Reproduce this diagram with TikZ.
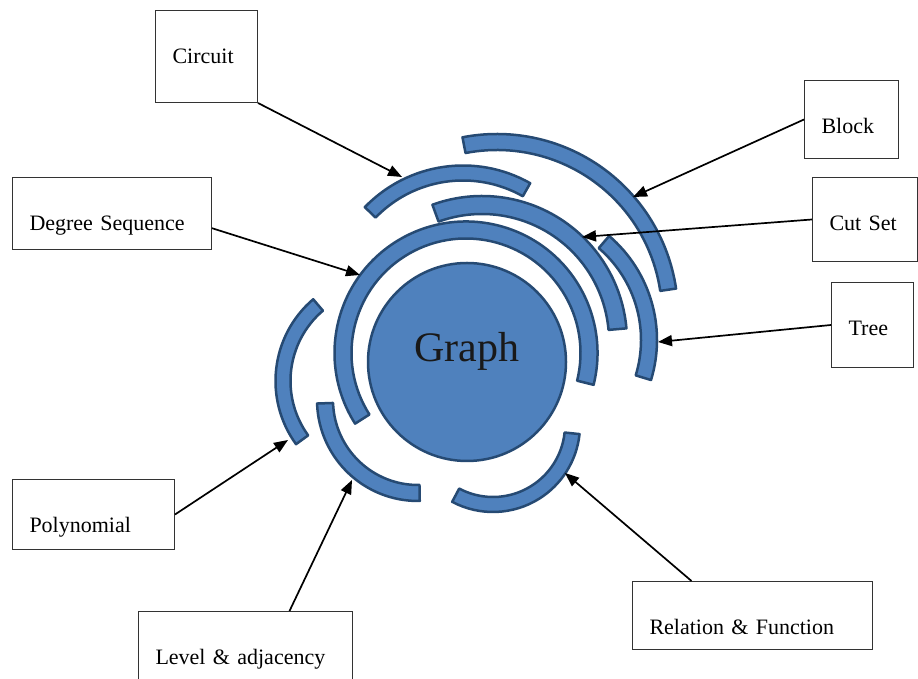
\documentclass[tikz,border=0pt]{standalone}
\usepackage{fontspec}
\setmainfont{Liberation Serif}
\usetikzlibrary{arrows.meta}
\definecolor{ringfill}{HTML}{4F81BD}
\definecolor{ringline}{HTML}{264A73}
\definecolor{boxline}{HTML}{333333}

\begin{document}
\begin{tikzpicture}[x=1pt,y=1pt,font=\fontsize{22}{26}\selectfont,
box/.style={draw=boxline,line width=1pt,fill=white,anchor=north west,inner xsep=17pt,inner ysep=0pt,align=left,text height=53pt},
band/.style={draw=ringline,fill=ringfill,line width=2.5pt,line join=round},
arrow/.style={-{Triangle[length=14pt,width=11pt]},line width=1.7pt,draw=black}]
\useasboundingbox (0,0) rectangle (918,679);
\node[circle,draw=ringline,fill=ringfill,line width=2.5pt,minimum size=198pt,inner sep=0pt,
 font=\fontsize{42}{46}\selectfont,text=black!90,text height=28pt,text depth=28pt] (graph) at (467,317) {Graph};
\draw[band] (466,326) ++(-14:131.5pt) arc[start angle=-14,end angle=212.5,radius=131.5pt] -- ++(32.5:17pt) arc[start angle=212.5,end angle=-14,radius=114.5pt] -- cycle;
\draw[band] (482,338) ++(5:145pt) arc[start angle=5,end angle=110,radius=145pt] -- ++(290:18pt) arc[start angle=110,end angle=5,radius=127pt] -- cycle;
\draw[band] (463,377) ++(60.5:136.5pt) arc[start angle=60.5,end angle=136,radius=136.5pt] -- ++(316:15pt) arc[start angle=136,end angle=60.5,radius=121.5pt] -- cycle;
\draw[band] (497,364) ++(8.4:181pt) arc[start angle=8.4,end angle=101,radius=181pt] -- ++(281:16pt) arc[start angle=101,end angle=8.4,radius=165pt] -- cycle;
\draw[band] (520,339) ++(-17:137pt) arc[start angle=-17,end angle=49.4,radius=137pt] -- ++(229.4:16pt) arc[start angle=49.4,end angle=-17,radius=121pt] -- cycle;
\draw[band] (383,298) ++(130.5:107.5pt) arc[start angle=130.5,end angle=216,radius=107.5pt] -- ++(36:15pt) arc[start angle=216,end angle=130.5,radius=92.5pt] -- cycle;
\draw[band] (418,279) ++(182:101pt) arc[start angle=182,end angle=271,radius=101pt] -- ++(91:16pt) arc[start angle=271,end angle=182,radius=85pt] -- cycle;
\draw[band] (493,254) ++(242:87pt) arc[start angle=242,end angle=354,radius=87pt] -- ++(174:15pt) arc[start angle=354,end angle=242,radius=72pt] -- cycle;
\node[box,text width=68pt,text depth=39pt] (circuit) at (155,669) {Circuit};
\node[box,text width=165pt,text depth=19pt] (degree) at (12,502) {Degree Sequence};
\node[box,text width=60pt,text depth=25pt] (block) at (804,599) {Block};
\node[box,text width=71pt,text depth=31pt] (cutset) at (812,502) {Cut Set};
\node[box,text width=48pt,text depth=32pt] (tree) at (831,397) {Tree};
\node[box,text width=128pt,text depth=17pt] (polynomial) at (12,200) {Polynomial};
\node[box,text width=180pt,text depth=25pt] (level) at (138,68) {Level \& adjacency};
\node[box,text width=206pt,text depth=15pt] (relation) at (632,98) {Relation \& Function};
\coordinate (circuitTip) at (402,502);
\coordinate (degreeTip) at (360,404);
\coordinate (blockTip) at (633,482);
\coordinate (cutsetTip) at (582,442);
\coordinate (treeTip) at (658,337);
\coordinate (polyTip) at (288,239);
\coordinate (levelTip) at (352,199);
\coordinate (relationTip) at (565,206);
\draw[arrow] (circuit.south east)--(circuitTip);
\draw[arrow] (degree.mid east)--(degreeTip);
\draw[arrow] (block.west)--(blockTip);
\draw[arrow] (cutset.west)--(cutsetTip);
\draw[arrow] (tree.west)--(treeTip);
\draw[arrow] (polynomial.east)--(polyTip);
\draw[arrow] ([xshift=44pt]level.north)--(levelTip);
\draw[arrow] ([xshift=-61pt]relation.north)--(relationTip);
\end{tikzpicture}
\end{document}
